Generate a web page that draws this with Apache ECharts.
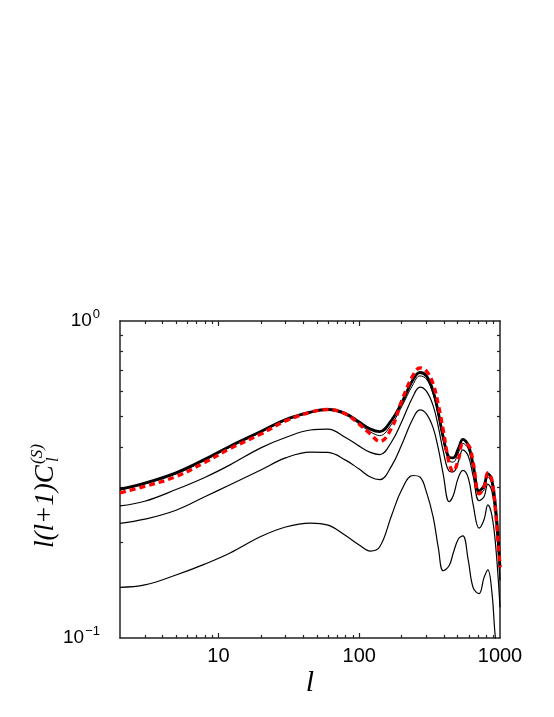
<!DOCTYPE html>
<html>
<head>
<meta charset="utf-8">
<script src="https://cdn.jsdelivr.net/npm/echarts@6/dist/echarts.min.js"></script>
<style>
  html, body { margin: 0; padding: 0; background: #fff; }
  #main { width: 554px; height: 717px; }
</style>
</head>
<body>
<div id="main"></div>
<script>
  // multipole l, shared by all curves
  let ell = [2, 3, 5, 8, 12, 20, 30, 45, 60, 80, 100, 120, 140, 170, 200, 240, 270, 300, 335, 365,
             395, 435, 465, 505, 545, 595, 645, 710, 770, 820, 875, 935, 1000];

  // l(l+1)C_l
  let clTop   = [0.295, 0.308, 0.332, 0.366, 0.402, 0.448, 0.489, 0.516, 0.526, 0.511, 0.480, 0.456, 0.448, 0.487, 0.551, 0.651, 0.688, 0.671, 0.601, 0.513,
                 0.431, 0.372, 0.370, 0.395, 0.423, 0.406, 0.351, 0.291, 0.302, 0.330, 0.315, 0.253, 0.168];
  let clTop2  = [0.293, 0.306, 0.329, 0.363, 0.399, 0.445, 0.485, 0.513, 0.522, 0.505, 0.473, 0.447, 0.435, 0.473, 0.536, 0.628, 0.671, 0.656, 0.588, 0.501,
                 0.421, 0.362, 0.359, 0.383, 0.411, 0.395, 0.341, 0.285, 0.293, 0.322, 0.306, 0.246, 0.166];
  let clRed   = [0.287, 0.301, 0.323, 0.358, 0.395, 0.440, 0.484, 0.515, 0.526, 0.509, 0.473, 0.440, 0.417, 0.460, 0.559, 0.671, 0.711, 0.695, 0.633, 0.543,
                 0.453, 0.357, 0.335, 0.364, 0.409, 0.406, 0.357, 0.285, 0.299, 0.332, 0.315, 0.244, 0.167];
  let clMid1  = [0.261, 0.270, 0.294, 0.321, 0.351, 0.398, 0.429, 0.453, 0.456, 0.429, 0.403, 0.385, 0.379, 0.416, 0.480, 0.576, 0.619, 0.601, 0.541, 0.463,
                 0.389, 0.336, 0.334, 0.359, 0.392, 0.375, 0.324, 0.271, 0.279, 0.306, 0.291, 0.232, 0.152];
  let clMid2  = [0.230, 0.237, 0.253, 0.279, 0.304, 0.339, 0.370, 0.386, 0.385, 0.364, 0.341, 0.322, 0.316, 0.349, 0.406, 0.491, 0.524, 0.509, 0.460, 0.395,
                 0.329, 0.269, 0.281, 0.320, 0.338, 0.320, 0.263, 0.222, 0.236, 0.263, 0.244, 0.192, 0.125];
  let clLow   = [0.1445, 0.147, 0.158, 0.171, 0.185, 0.209, 0.224, 0.2305, 0.227, 0.2105, 0.1965, 0.188, 0.194, 0.244, 0.293, 0.3255, 0.322, 0.289, 0.241, 0.192,
                 0.163, 0.169, 0.185, 0.205, 0.210, 0.176, 0.144, 0.138, 0.155, 0.164, 0.140, 0.097, 0.085];

  // ticks and labels
  let xLabels = [10, 100, 1000];
  let xMajor = [10, 100];
  let xMinor = [3, 4, 5, 6, 7, 8, 9, 20, 30, 40, 50, 60, 70, 80, 90, 200, 300, 400, 500, 600, 700, 800, 900];
  let yLabels = [0.1, 1];
  let yMinor = [0.2, 0.3, 0.4, 0.5, 0.6, 0.7, 0.8, 0.9];

  let axisColor = '#222';

  function pairs(ys) {
    return ell.map((l, i) => [l, ys[i]]);
  }

  function xAx(pos, ticks, len, line, labels) {
    return {
      type: 'log', logBase: 10, min: 2, max: 1000, position: pos,
      axisLine: { show: line, onZero: false, lineStyle: { color: axisColor, width: 1.5 } },
      axisTick: { show: true, inside: true, length: len, customValues: ticks, lineStyle: { color: axisColor, width: 1.2 } },
      axisLabel: labels ? {
        show: true, customValues: xLabels, margin: 8, fontSize: 20, color: '#000',
        fontFamily: 'Liberation Sans, Arial, sans-serif', formatter: v => String(Math.round(v))
      } : { show: false },
      splitLine: { show: false }, minorTick: { show: false }
    };
  }

  function yAx(pos, ticks, len, line, labels) {
    return {
      type: 'log', logBase: 10, min: 0.1, max: 1, position: pos,
      axisLine: { show: line, onZero: false, lineStyle: { color: axisColor, width: 1.5 } },
      axisTick: { show: true, inside: true, length: len, customValues: ticks, lineStyle: { color: axisColor, width: 1.2 } },
      axisLabel: labels ? {
        show: true, customValues: yLabels, margin: 20, color: '#000',
        fontFamily: 'Liberation Sans, Arial, sans-serif',
        formatter: v => v > 0.5 ? '{b|10}{s|0}' : '{b|10}{s|\u22121}',
        rich: {
          b: { fontSize: 19, color: '#000', fontFamily: 'Liberation Sans, Arial, sans-serif' },
          s: { fontSize: 13, color: '#000', fontFamily: 'Liberation Sans, Arial, sans-serif', verticalAlign: 'top', padding: [0, 0, 13, 1] }
        }
      } : { show: false },
      splitLine: { show: false }, minorTick: { show: false }
    };
  }

  function thin(name, ys, width) {
    return {
      name: name, type: 'line', data: pairs(ys), smooth: 0.4, showSymbol: false, symbol: 'none',
      lineStyle: { color: '#000', width: width }, z: 2
    };
  }

  let chart = echarts.init(document.getElementById('main'), null, { renderer: 'canvas' });

  let xAxes = [xAx('bottom', xMajor, 5, true, true), xAx('bottom', xMinor, 3, false, false),
               xAx('top', xMajor, 5, true, false), xAx('top', xMinor, 3, false, false)];
  xAxes[0].name = 'l';
  xAxes[0].nameLocation = 'middle';
  xAxes[0].nameGap = 30;
  xAxes[0].nameTextStyle = { fontFamily: 'Liberation Serif, Times New Roman, serif', fontStyle: 'italic', fontSize: 30, color: '#000' };

  chart.setOption({
    animation: false,
    backgroundColor: '#fff',
    grid: { left: 120, right: 54, top: 321, bottom: 79, containLabel: false, outerBoundsMode: 'none' },
    xAxis: xAxes,
    yAxis: [yAx('left', yMinor, 3, true, true), yAx('right', yMinor, 3, true, false)],
    series: [
      thin('low', clLow, 1.2),
      thin('mid2', clMid2, 1.2),
      thin('mid1', clMid1, 1.2),
      thin('top2', clTop2, 1),
      thin('top', clTop, 2.8),
      {
        name: 'red', type: 'line', data: pairs(clRed), smooth: 0.4, showSymbol: false, symbol: 'none',
        lineStyle: { color: '#ff0000', width: 3.4, type: [6, 4] }, z: 3
      }
    ],
    graphic: [
      {
        // y axis title l(l+1)C_l^(S), written rotated
        type: 'group', x: 46, y: 548, rotation: Math.PI / 2,
        children: [
          { type: 'text', x: 0, y: 0, style: { text: 'l(l+1)C', fill: '#000', font: 'italic 27px "Liberation Serif", serif', align: 'left', verticalAlign: 'middle' } },
          { type: 'text', x: 84, y: -8, style: { text: '(S)', fill: '#000', font: 'italic 17px "Liberation Serif", serif', align: 'left', verticalAlign: 'middle' } },
          { type: 'text', x: 86, y: 8, style: { text: 'l', fill: '#000', font: 'italic 17px "Liberation Serif", serif', align: 'left', verticalAlign: 'middle' } }
        ]
      }
    ]
  });
</script>
</body>
</html>
